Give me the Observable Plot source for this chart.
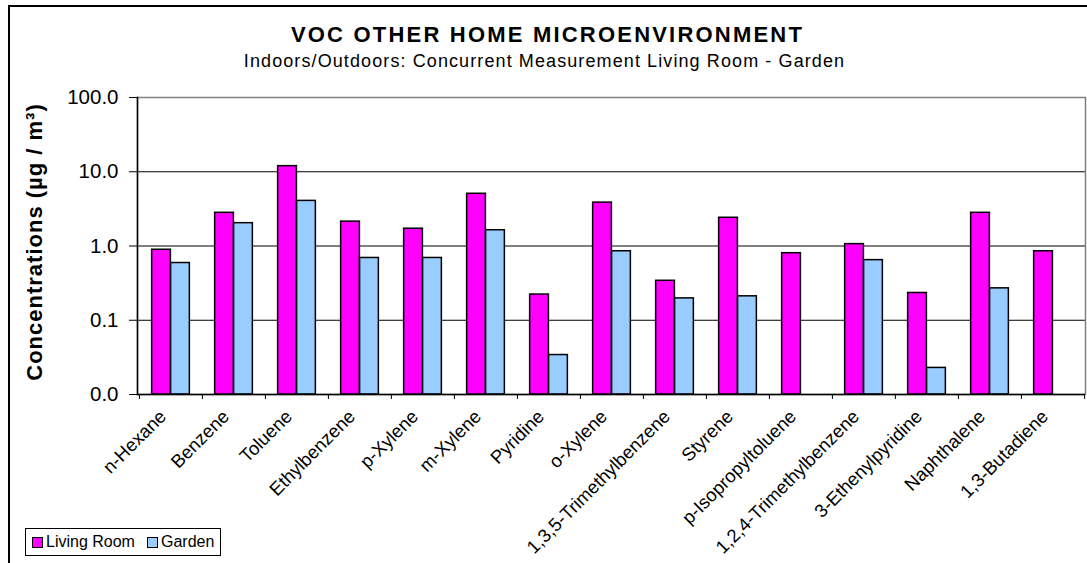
<!DOCTYPE html>
<html>
<head>
<meta charset="utf-8">
<script src="https://cdn.jsdelivr.net/npm/d3@7"></script>
<script src="https://cdn.jsdelivr.net/npm/@observablehq/plot@0.6"></script>
<style>
  html, body { margin: 0; padding: 0; background: #fff; }
  #wrap { position: relative; width: 1087px; height: 563px; overflow: hidden; font-family: "Liberation Sans", Arial, sans-serif; color: #000; }
  #border { position: absolute; left: 8px; top: 5px; width: 1200px; height: 700px; border-top: 2px solid #000; border-left: 2px solid #000; }
  #chart { position: absolute; left: 0; top: 0; }
  .title { position: absolute; left: 0; width: 1087px; text-align: center; white-space: nowrap; }
  #t1 { top: 22px; font-size: 22px; font-weight: bold; letter-spacing: 2.2px; left: 4px; }
  #t2 { top: 51px; font-size: 18px; letter-spacing: 1.1px; left: 1px; }
  #legend { position: absolute; left: 25px; top: 528px; width: 194px; height: 26px; border: 1px solid #000; background: #fff; font-size: 16px; }
  .sw { position: absolute; top: 8px; width: 9px; height: 9px; border: 1px solid #000; }
  .lt { position: absolute; top: 4px; white-space: nowrap; }
</style>
</head>
<body>
<div id="wrap">
  <div id="border"></div>
  <div id="chart"></div>
  <div class="title" id="t1"></div>
  <div class="title" id="t2"></div>
  <div id="legend"></div>
</div>
<script>
const categories = ["n-Hexane", "Benzene", "Toluene", "Ethylbenzene", "p-Xylene", "m-Xylene", "Pyridine", "o-Xylene", "1,3,5-Trimethylbenzene", "Styrene", "p-Isopropyltoluene", "1,2,4-Trimethylbenzene", "3-Ethenylpyridine", "Naphthalene", "1,3-Butadiene"];
const livingRoom = [0.89, 2.8, 11.9, 2.13, 1.71, 5.05, 0.222, 3.84, 0.34, 2.4, 0.80, 1.06, 0.233, 2.8, 0.85];
const garden = [0.59, 2.03, 4.05, 0.69, 0.69, 1.63, 0.034, 0.85, 0.197, 0.21, null, 0.645, 0.0228, 0.269, null];
const seriesNames = ["Living Room", "Garden"];
const seriesColors = ["#ff00ff", "#99ccff"];
const yTicks = [0.01, 0.1, 1, 10, 100];
const gridTicks = [0.1, 1, 10];
const titleText = "VOC OTHER HOME MICROENVIRONMENT";
const subtitleText = "Indoors/Outdoors: Concurrent Measurement Living Room - Garden";
const yLabel = "Concentrations (µg / m³)";

const W = 1087, H = 563;
const mL = 137, mR = 2, mT = 97, mB = 169;
const bw = (W - mL - mR) / categories.length;
const yMin = yTicks[0];

const lrData = categories.map((c, i) => ({cat: c, v: livingRoom[i]})).filter(d => d.v != null);
const gData = categories.map((c, i) => ({cat: c, v: garden[i]})).filter(d => d.v != null);

const chart = Plot.plot({
  width: W, height: H,
  marginLeft: mL, marginRight: mR, marginTop: mT, marginBottom: mB,
  style: {fontFamily: "'Liberation Sans', Arial, sans-serif", color: "#000", background: "transparent", overflow: "visible"},
  x: {type: "band", domain: categories, padding: 0, axis: null},
  y: {type: "log", domain: [yMin, 100], axis: null},
  marks: [
    Plot.gridY(gridTicks, {stroke: "#000", strokeOpacity: 1, strokeWidth: 1}),
    Plot.frame({stroke: "#808080", strokeWidth: 1.5}),
    Plot.barY(lrData, {x: "cat", y1: () => yMin, y2: "v", fill: seriesColors[0], stroke: "#000", strokeWidth: 1.5, insetLeft: 0.2 * bw, insetRight: 0.5 * bw}),
    Plot.barY(gData, {x: "cat", y1: () => yMin, y2: "v", fill: seriesColors[1], stroke: "#000", strokeWidth: 1.5, insetLeft: 0.5 * bw, insetRight: 0.2 * bw}),
    Plot.ruleY([yMin], {stroke: "#000", strokeWidth: 1.5}),
    Plot.frame({anchor: "left", stroke: "#000", strokeWidth: 1.5}),
    Plot.axisY({ticks: yTicks, tickFormat: d => d.toFixed(1), tickSize: 8, tickPadding: 11, fontSize: 20.5, label: null, stroke: "#000"}),
    Plot.axisX({ticks: categories, tickSize: 5, tickFormat: () => "", dx: -bw / 2, label: null, stroke: "#000"}),
    Plot.axisX({ticks: categories.slice(-1), tickSize: 5, tickFormat: () => "", dx: bw / 2, label: null, stroke: "#000"}),
    Plot.text(categories, {x: d => d, frameAnchor: "bottom", rotate: -45, textAnchor: "end", lineAnchor: "middle", dx: -8, dy: 19, fontSize: 18.5}),
    Plot.text([yLabel], {frameAnchor: "left", rotate: -90, textAnchor: "middle", lineAnchor: "middle", dx: -102.5, dy: -4, fontSize: 22, fontWeight: "bold"})
  ]
});
document.getElementById("chart").appendChild(chart);
d3.select(chart).selectAll("text").filter(function() { return this.textContent === yLabel; }).style("letter-spacing", "1px");

document.getElementById("t1").textContent = titleText;
document.getElementById("t2").textContent = subtitleText;

const legend = document.getElementById("legend");
const swLeft = [6, 121], txtLeft = [20, 135];
seriesNames.forEach((name, i) => {
  const sw = document.createElement("div");
  sw.className = "sw";
  sw.style.left = swLeft[i] + "px";
  sw.style.background = seriesColors[i];
  legend.appendChild(sw);
  const t = document.createElement("div");
  t.className = "lt";
  t.style.left = txtLeft[i] + "px";
  t.textContent = name;
  legend.appendChild(t);
});
</script>
</body>
</html>
